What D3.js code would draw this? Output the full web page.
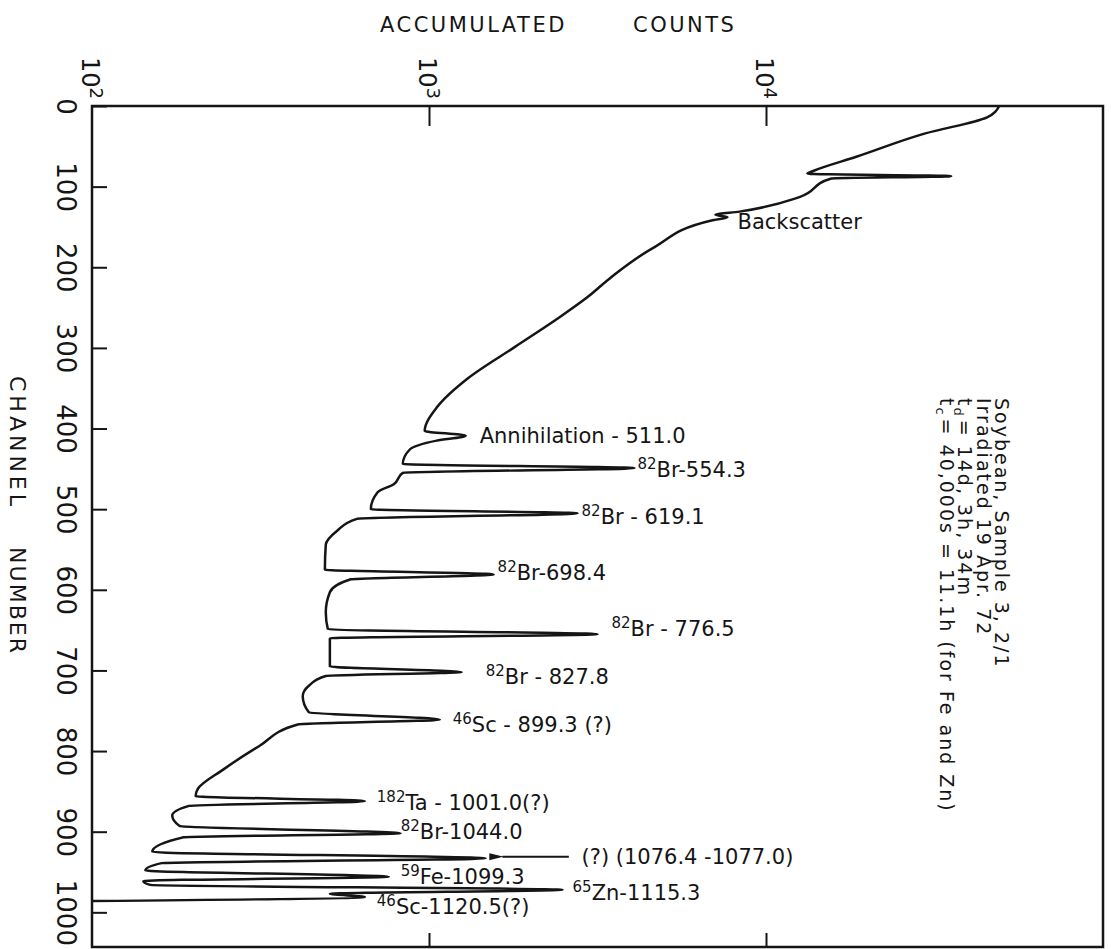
<!DOCTYPE html>
<meta charset="utf-8">
<style>
body { margin: 0; background: #fff; }
svg text { font-family: "DejaVu Sans", sans-serif; fill: #151515; }
</style>
<svg width="1111" height="949"></svg>
<script src="https://cdn.jsdelivr.net/npm/d3@7"></script>
<script>

// spectrum: channel number and accumulated counts
var channel = [0, 14, 34, 63, 80, 84, 87, 90, 113, 131, 135, 138, 142, 175, 212, 237, 262, 299, 337, 374,
  403, 409, 415, 426, 444, 449, 455, 469, 479, 500, 505, 512, 527, 544, 575, 581, 587, 603, 628, 649,
  655, 660, 695, 702, 707, 719, 732, 752, 761, 767, 794, 823, 847, 856, 862, 868, 880, 893, 902, 907,
  925, 933, 939, 948, 956, 961, 966, 972, 977, 981, 986];
var counts = [49200, 45300, 29700, 18530, 13920, 13270, 35450, 15630, 12560, 8340, 7080, 7685, 6890, 4670, 3480, 2955, 2440, 1795, 1311, 1054,
  971, 1285, 1054, 877, 836, 4073, 836, 786, 704, 672, 2760, 611, 533, 494, 491, 1555, 586, 508, 494, 501,
  3164, 508, 508, 1250, 494, 440, 422, 440, 1076, 408, 313, 245, 206, 203, 645, 194, 173, 182, 824, 187,
  151, 1473, 161, 144, 760, 142, 149, 2491, 508, 645, 100];

var countTicks = [100, 1000, 10000];
var countExp = ["2", "3", "4"];
var channelTicks = [0, 100, 200, 300, 400, 500, 600, 700, 800, 900, 1000];

// peak labels
var labelSup = ["", "", "82", "82", "82", "82", "82", "46", "182", "82", "", "59", "65", "46"];
var labelText = ["Backscatter", "Annihilation - 511.0", "Br-554.3", "Br - 619.1", "Br-698.4", "Br - 776.5",
  "Br - 827.8", "Sc - 899.3 (?)", "Ta - 1001.0(?)", "Br-1044.0", "(?) (1076.4 -1077.0)", "Fe-1099.3",
  "Zn-1115.3", "Sc-1120.5(?)"];
var labelCounts = [8230, 1414, 4156, 2836, 1598, 3480, 1473, 1176, 700, 824, 2836, 824, 2667, 700];
var labelChannel = [143, 409, 451, 509, 578, 648, 707, 767, 864, 900, 931, 956, 975, 993];

// arrow to the (?) line
var arrowCounts = [2600, 1650];
var arrowChannel = 931;

// sample notes
var noteHead = ["Soybean, Sample 3, 2/1", "Irradiated 19 Apr. 72", "t", "t"];
var noteSub = ["", "", "d", "c"];
var noteTail = ["", "", "= 14d, 3h, 34m", "= 40,000s = 11.1h  (for Fe and Zn)"];

var svg = d3.select("svg");

var x = d3.scaleLog().domain([100, 100000]).range([92, 1103]),
    y = d3.scaleLinear().domain([0, 1043]).range([106, 947]);

var ink = "#151515";

var data = channel.map(function(c, i) { return {ch: c, n: counts[i]}; });

// frame
svg.append("rect")
    .attr("x", x.range()[0]).attr("y", y.range()[0])
    .attr("width", x.range()[1] - x.range()[0])
    .attr("height", y.range()[1] - y.range()[0])
    .attr("fill", "none").attr("stroke", ink).attr("stroke-width", 2.5);

// top ticks (inward)
svg.append("g")
    .attr("transform", "translate(0," + y.range()[0] + ")")
    .call(d3.axisTop(x).tickValues([1000, 10000]).tickSizeInner(-20).tickSizeOuter(0).tickFormat(""))
    .call(function(g) { g.select(".domain").remove(); })
    .selectAll("line").attr("stroke", ink).attr("stroke-width", 2);

// bottom ticks (inward)
svg.append("g")
    .attr("transform", "translate(0," + y.range()[1] + ")")
    .call(d3.axisBottom(x).tickValues([1000, 10000]).tickSizeInner(-14).tickSizeOuter(0).tickFormat(""))
    .call(function(g) { g.select(".domain").remove(); })
    .selectAll("line").attr("stroke", ink).attr("stroke-width", 2);

// left ticks with rotated labels
var left = svg.append("g")
    .attr("transform", "translate(" + x.range()[0] + ",0)")
    .call(d3.axisLeft(y).tickValues(channelTicks).tickSizeInner(-15).tickSizeOuter(0).tickFormat(d3.format("d")))
    .call(function(g) { g.select(".domain").remove(); });
left.selectAll("line").attr("stroke", ink).attr("stroke-width", 2);
left.selectAll("text")
    .attr("x", 0).attr("y", 0).attr("dy", 0)
    .attr("text-anchor", "middle")
    .attr("transform", "translate(-35,0) rotate(90)")
    .style("font-size", "26px")
    .style("font-family", "'DejaVu Sans', sans-serif")
    .attr("fill", ink);

// top labels 10^n, rotated
countTicks.forEach(function(v, i) {
  var t = svg.append("text")
      .attr("transform", "translate(" + (x(v) - 10) + ",57) rotate(90)")
      .style("font-size", "24px");
  t.append("tspan").text("10");
  t.append("tspan").attr("dy", -8).style("font-size", "18px").text(countExp[i]);
});

// axis titles
svg.append("text").attr("x", 380).attr("y", 32)
    .style("font-size", "21px").style("letter-spacing", "2.5px").text("ACCUMULATED");
svg.append("text").attr("x", 633).attr("y", 32)
    .style("font-size", "21px").style("letter-spacing", "2.5px").text("COUNTS");
svg.append("text").attr("transform", "translate(10,443) rotate(90)")
    .attr("text-anchor", "middle")
    .style("font-size", "22px").style("letter-spacing", "4px").text("CHANNEL");
svg.append("text").attr("transform", "translate(10,601) rotate(90)")
    .attr("text-anchor", "middle")
    .style("font-size", "22px").style("letter-spacing", "2px").text("NUMBER");

// spectrum
var line = d3.line()
    .curve(d3.curveMonotoneY)
    .x(function(d) { return x(d.n); })
    .y(function(d) { return y(d.ch); });

svg.append("path")
    .datum(data)
    .attr("d", line)
    .attr("fill", "none")
    .attr("stroke", ink)
    .attr("stroke-width", 2.5)
    .attr("stroke-linejoin", "round");

// peak labels
labelText.forEach(function(s, i) {
  var t = svg.append("text")
      .attr("x", x(labelCounts[i]))
      .attr("y", y(labelChannel[i]) + 7.5)
      .style("font-size", "21px");
  if (labelSup[i]) {
    t.append("tspan").attr("dy", -8).style("font-size", "15px").text(labelSup[i]);
    t.append("tspan").attr("dy", 8).text(s);
  } else {
    t.text(s);
  }
});

// arrow
svg.append("defs").append("marker")
    .attr("id", "head")
    .attr("viewBox", "0 0 14 8")
    .attr("refX", 1).attr("refY", 4)
    .attr("markerWidth", 14).attr("markerHeight", 8)
    .attr("markerUnits", "userSpaceOnUse")
    .attr("orient", "auto")
  .append("path")
    .attr("d", "M0,4L14,0.5L14,7.5Z")
    .attr("fill", ink);

svg.append("line")
    .attr("x1", x(arrowCounts[0])).attr("y1", y(arrowChannel))
    .attr("x2", x(arrowCounts[1])).attr("y2", y(arrowChannel))
    .attr("stroke", ink).attr("stroke-width", 2)
    .attr("marker-end", "url(#head)");

// sample notes, rotated
noteHead.forEach(function(s, i) {
  var t = svg.append("text")
      .attr("transform", "translate(" + (995 - i * 18.5) + ",398) rotate(90)")
      .style("font-size", "19px")
      .style("letter-spacing", "2px");
  t.append("tspan").text(s);
  if (noteSub[i]) {
    t.append("tspan").attr("dy", 4).style("font-size", "13px").text(noteSub[i]);
    t.append("tspan").attr("dy", -4).attr("dx", 2).text(noteTail[i]);
  }
});

</script>
